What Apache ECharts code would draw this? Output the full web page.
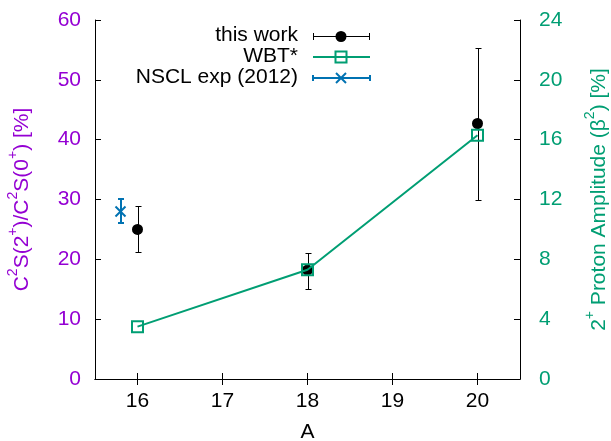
<!DOCTYPE html>
<html>
<head>
<meta charset="utf-8">
<script src="https://cdn.jsdelivr.net/npm/echarts@6/dist/echarts.min.js"></script>
<style>
html,body{margin:0;padding:0;background:#fff;}
#c{width:611px;height:441px;}
</style>
</head>
<body>
<div id="c"></div>
<script>
// ---- data ----
const xTicks = [16, 17, 18, 19, 20];
const thisA = [16, 18, 20];
const thisVal = [25.0, 18.2, 42.7];
const thisLo = [21.3, 15.1, 29.9];
const thisHi = [28.9, 21.1, 55.4];
const wbtA = [16, 18, 20];
const wbtVal = [3.5, 7.3, 16.3];
const nsclA = [15.8];
const nsclVal = [28.0];
const nsclLo = [26.1];
const nsclHi = [30.1];

const PURPLE = '#9400D3';
const GREEN = '#009E73';
const BLUE = '#0072B2';
const FONT = 'Liberation Sans';
const FS = 21;

const chart = echarts.init(document.getElementById('c'), null, {renderer: 'canvas'});

function errData(a, v, lo, hi) {
  return a.map((x, i) => [x, v[i], lo[i], hi[i]]);
}

function errRender(color, width, cap, cross) {
  return function (params, api) {
    const x = api.value(0);
    const pc = api.coord([x, api.value(1)]);
    const pl = api.coord([x, api.value(2)]);
    const ph = api.coord([x, api.value(3)]);
    const xs = width % 2 === 1 ? Math.round(pl[0]) + 0.5 : Math.round(pl[0]);
    const yl = width % 2 === 1 ? Math.round(pl[1]) + 0.5 : Math.round(pl[1]);
    const yh = width % 2 === 1 ? Math.round(ph[1]) + 0.5 : Math.round(ph[1]);
    const st = {stroke: color, lineWidth: width};
    const ch = [
      {type: 'line', shape: {x1: xs, y1: yl, x2: xs, y2: yh}, style: st},
      {type: 'line', shape: {x1: xs - cap, y1: yl, x2: xs + cap, y2: yl}, style: st},
      {type: 'line', shape: {x1: xs - cap, y1: yh, x2: xs + cap, y2: yh}, style: st}
    ];
    if (cross) {
      const r = 5;
      ch.push({type: 'line', shape: {x1: pc[0] - r, y1: pc[1] - r, x2: pc[0] + r, y2: pc[1] + r}, style: st});
      ch.push({type: 'line', shape: {x1: pc[0] - r, y1: pc[1] + r, x2: pc[0] + r, y2: pc[1] - r}, style: st});
    }
    return {type: 'group', children: ch};
  };
}

const axisLine = {show: true, lineStyle: {color: '#000', width: 1}};
const tick = {show: true, inside: true, length: 6, lineStyle: {color: '#000', width: 1}};

const option = {
  animation: false,
  backgroundColor: '#fff',
  grid: {left: 95, right: 91, top: 20, bottom: 62, containLabel: false, outerBoundsMode: 'none'},
  xAxis: [
    {
      type: 'value', min: 15.5, max: 20.5, position: 'bottom',
      name: 'A', nameLocation: 'middle', nameGap: 43,
      nameTextStyle: {fontFamily: FONT, fontSize: FS, color: '#000'},
      axisLine: axisLine,
      axisTick: Object.assign({customValues: xTicks}, tick),
      axisLabel: {customValues: xTicks, fontFamily: FONT, fontSize: FS, color: '#000', margin: 12},
      splitLine: {show: false}
    },
    {
      type: 'value', min: 15.5, max: 20.5, position: 'top',
      axisLine: axisLine,
      axisTick: Object.assign({customValues: xTicks}, tick),
      axisLabel: {show: false},
      splitLine: {show: false}
    }
  ],
  yAxis: [
    {
      type: 'value', min: 0, max: 60, interval: 10, position: 'left',
      name: '{n|C}{s|2}{n|S(2}{s|+}{n|)/C}{s|2}{n|S(0}{s|+}{n|) [%]}',
      nameLocation: 'middle', nameRotate: 90, nameGap: 62,
      nameTextStyle: {
        rich: {
          n: {fontFamily: FONT, fontSize: FS, color: PURPLE, lineHeight: 27, verticalAlign: 'bottom'},
          s: {fontFamily: FONT, fontSize: 14, color: PURPLE, lineHeight: 14, verticalAlign: 'top'}
        }
      },
      axisLine: axisLine,
      axisTick: tick,
      axisLabel: {fontFamily: FONT, fontSize: FS, color: PURPLE, margin: 14},
      splitLine: {show: false}
    },
    {
      type: 'value', min: 0, max: 24, interval: 4, position: 'right',
      name: '{n|2}{s|+}{n| Proton Amplitude (β}{s|2}{n|) [%]}',
      nameLocation: 'middle', nameRotate: 90, nameGap: 63,
      nameTextStyle: {
        rich: {
          n: {fontFamily: FONT, fontSize: FS, color: GREEN, lineHeight: 27, verticalAlign: 'bottom'},
          s: {fontFamily: FONT, fontSize: 14, color: GREEN, lineHeight: 14, verticalAlign: 'top'}
        }
      },
      axisLine: axisLine,
      axisTick: tick,
      axisLabel: {fontFamily: FONT, fontSize: FS, color: GREEN, margin: 19},
      splitLine: {show: false}
    }
  ],
  series: [
    {
      name: 'this work err', type: 'custom', xAxisIndex: 0, yAxisIndex: 0, z: 2,
      renderItem: errRender('#000', 1, 3, false),
      data: errData(thisA, thisVal, thisLo, thisHi),
      encode: {x: 0, y: [1, 2, 3]}
    },
    {
      name: 'this work', type: 'scatter', xAxisIndex: 0, yAxisIndex: 0, z: 3,
      symbol: 'circle', symbolSize: 11,
      itemStyle: {color: '#000', opacity: 1},
      data: thisA.map((x, i) => [x, thisVal[i]])
    },
    {
      name: 'WBT*', type: 'line', xAxisIndex: 0, yAxisIndex: 1, z: 4,
      symbol: 'rect', symbolSize: 11,
      lineStyle: {color: GREEN, width: 2},
      itemStyle: {color: 'rgba(0,0,0,0)', borderColor: GREEN, borderWidth: 2, opacity: 1},
      data: wbtA.map((x, i) => [x, wbtVal[i]])
    },
    {
      name: 'NSCL exp (2012)', type: 'custom', xAxisIndex: 0, yAxisIndex: 0, z: 3,
      renderItem: errRender(BLUE, 2, 3, true),
      data: errData(nsclA, nsclVal, nsclLo, nsclHi),
      encode: {x: 0, y: [1, 2, 3]}
    }
  ],
  graphic: [
    {type: 'text', x: 298, y: 35, style: {text: 'this work', align: 'right', verticalAlign: 'middle', font: FS + 'px "' + FONT + '"', fill: '#000'}},
    {type: 'text', x: 298, y: 56, style: {text: 'WBT*', align: 'right', verticalAlign: 'middle', font: FS + 'px "' + FONT + '"', fill: '#000'}},
    {type: 'text', x: 298, y: 77, style: {text: 'NSCL exp (2012)', align: 'right', verticalAlign: 'middle', font: FS + 'px "' + FONT + '"', fill: '#000'}},
    // row 1
    {type: 'line', shape: {x1: 313, y1: 36.5, x2: 370, y2: 36.5}, style: {stroke: '#000', lineWidth: 1}},
    {type: 'line', shape: {x1: 313.5, y1: 33, x2: 313.5, y2: 40}, style: {stroke: '#000', lineWidth: 1}},
    {type: 'line', shape: {x1: 369.5, y1: 33, x2: 369.5, y2: 40}, style: {stroke: '#000', lineWidth: 1}},
    {type: 'circle', shape: {cx: 341, cy: 36.5, r: 5.5}, style: {fill: '#000'}},
    // row 2
    {type: 'line', shape: {x1: 313, y1: 57, x2: 370, y2: 57}, style: {stroke: GREEN, lineWidth: 2}},
    {type: 'rect', shape: {x: 335.5, y: 51.5, width: 11, height: 11}, style: {fill: 'rgba(0,0,0,0)', stroke: GREEN, lineWidth: 2}},
    // row 3
    {type: 'line', shape: {x1: 313, y1: 78, x2: 370, y2: 78}, style: {stroke: BLUE, lineWidth: 2}},
    {type: 'line', shape: {x1: 313, y1: 75, x2: 313, y2: 81}, style: {stroke: BLUE, lineWidth: 2}},
    {type: 'line', shape: {x1: 370, y1: 75, x2: 370, y2: 81}, style: {stroke: BLUE, lineWidth: 2}},
    {type: 'line', shape: {x1: 336, y1: 73, x2: 346, y2: 83}, style: {stroke: BLUE, lineWidth: 2}},
    {type: 'line', shape: {x1: 336, y1: 83, x2: 346, y2: 73}, style: {stroke: BLUE, lineWidth: 2}}
  ]
};
chart.setOption(option);
</script>
</body>
</html>
